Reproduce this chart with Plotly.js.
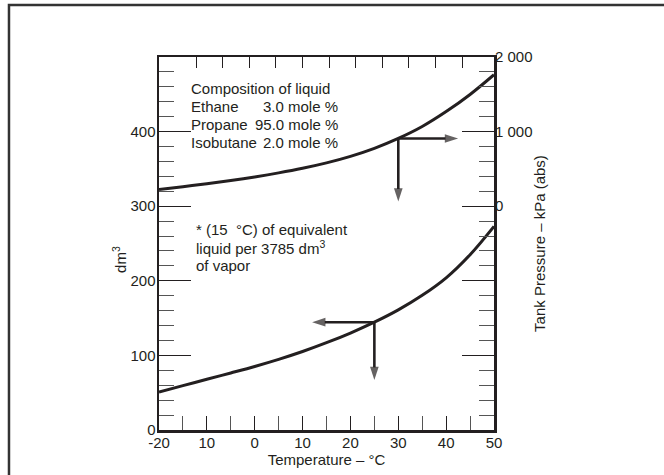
<!DOCTYPE html>
<html>
<head>
<meta charset="utf-8">
<script src="https://cdn.plot.ly/plotly-3.0.1.min.js"></script>
<style>html,body{margin:0;padding:0;background:#fff;}#chart{width:664px;height:475px;}</style>
</head>
<body>
<div id="chart"></div>
<script>
// ---- data ----
const temps = [-20, -15, -10, -5, 0, 5, 10, 15, 20, 25, 30, 35, 40, 45, 50];
const pressureKPa = [225, 262, 301.5, 344.5, 392.5, 446.5, 508, 580.5, 668, 775.5, 908, 1068, 1268, 1498, 1763];
const volumeDm3 = [51, 59.5, 68, 76.5, 85.2, 94.7, 105.2, 117, 130, 144.5, 161, 180.5, 204, 235, 273];

const xTickVals = [-20, -10, 0, 10, 20, 30, 40, 50];
const xTickText = ['-20', '10', '0', '10', '20', '30', '40', '50'];
const yTickVals = [0, 100, 200, 300, 400];
const yTickText = ['0', '100', '200', '300', '400'];
const y2TickVals = [0, 1000, 2000];
const y2TickText = ['0', '1 000', '2 000'];
const fahrenheitTicks = [10, 20, 30, 40, 50, 60, 70, 80, 90, 100, 110];

const compNames = ['Composition of liquid', 'Ethane', 'Propane', 'Isobutane'];
const compValues = ['', '3.0 mole %', '95.0 mole %', '2.0 mole %'];
const noteLines = ['* (15\u00a0\u00a0°C) of equivalent', 'liquid per 3785 dm<sup>3</sup>', 'of vapor'];

// reading arrows: tail on the curve, head where the reading is taken
const pressureArrowT = [[30, 42.5], [30, 30]];
const pressureArrowP = [[908, 908], [908, 62]];
const volumeArrowT = [[25, 12], [25, 25]];
const volumeArrowV = [[144.5, 144.5], [144.5, 67]];

// ---- styling ----
const ink = '#231f20';
const font = {family: 'Liberation Sans, Arial, sans-serif', size: 15, color: ink};

const traces = [
  {x: temps, y: pressureKPa, xaxis: 'x', yaxis: 'y2', mode: 'lines',
   line: {color: ink, width: 3, shape: 'spline', smoothing: 1}, hoverinfo: 'skip'},
  {x: temps, y: volumeDm3, xaxis: 'x', yaxis: 'y', mode: 'lines',
   line: {color: ink, width: 3, shape: 'spline', smoothing: 1}, hoverinfo: 'skip'},
  {x: [], y: [], xaxis: 'x2', yaxis: 'y', mode: 'lines', hoverinfo: 'skip'}
];
function arrowTrace(xs, ys, yaxis) {
  return {x: xs, y: ys, xaxis: 'x', yaxis: yaxis, mode: 'lines+markers', hoverinfo: 'skip',
    line: {color: ink, width: 2.6},
    marker: {symbol: 'arrow', angleref: 'previous', size: [0, 14], color: ink, line: {width: 0}}};
}
pressureArrowT.forEach((xs, i) => traces.push(arrowTrace(xs, pressureArrowP[i], 'y2')));
volumeArrowT.forEach((xs, i) => traces.push(arrowTrace(xs, volumeArrowV[i], 'y')));

const annotations = [];
const lineY = [458, 433.5, 409, 385.5];
compNames.forEach((t, i) => {
  annotations.push({xref: 'x', yref: 'y', x: -13.7, y: lineY[i], text: t, showarrow: false,
    xanchor: 'left', yanchor: 'middle', font: font});
  if (compValues[i]) {
    annotations.push({xref: 'x', yref: 'y', x: 17.8, y: lineY[i], text: compValues[i], showarrow: false,
      xanchor: 'right', yanchor: 'middle', font: font});
  }
});
const noteY = [268.5, 244.5, 221];
noteLines.forEach((t, i) => {
  annotations.push({xref: 'x', yref: 'y', x: -12.6, y: noteY[i], text: t, showarrow: false,
    xanchor: 'left', yanchor: 'middle', font: font});
});
annotations.push({xref: 'paper', yref: 'paper', x: -0.1164, y: 0.456, text: 'dm<sup>3</sup>',
  textangle: -90, showarrow: false, xanchor: 'center', yanchor: 'middle', font: font});

const layout = {
  width: 664, height: 475,
  margin: {l: 159, r: 170, t: 57, b: 45, pad: 0},
  paper_bgcolor: '#ffffff', plot_bgcolor: '#ffffff',
  showlegend: false,
  font: font,
  xaxis: {
    range: [-20, 50], tickmode: 'array', tickvals: xTickVals, ticktext: xTickText,
    ticks: 'inside', ticklen: 14, tickwidth: 1, tickcolor: ink, ticklabelstandoff: -3,
    minor: {dtick: 5, ticks: 'inside', ticklen: 14, tickwidth: 1, tickcolor: '#555', showgrid: false},
    showline: true, linewidth: 2.5, linecolor: ink, mirror: true,
    showgrid: false, zeroline: false, tickfont: font,
    title: {text: 'Temperature \u2013 °C', font: font, standoff: 4}
  },
  xaxis2: {
    overlaying: 'x', side: 'top', anchor: 'y', range: [-4, 122],
    tickmode: 'array', tickvals: fahrenheitTicks, ticks: 'inside', ticklen: 11, tickwidth: 1,
    tickcolor: ink, showticklabels: false, showline: false, showgrid: false, zeroline: false
  },
  yaxis: {
    range: [0, 500], tickmode: 'array', tickvals: yTickVals, ticktext: yTickText,
    ticks: 'inside', ticklen: 32, tickwidth: 1, tickcolor: ink, ticklabelstandoff: -2,
    minor: {dtick: 20, ticks: 'inside', ticklen: 15, tickwidth: 1, tickcolor: '#555', showgrid: false},
    showline: true, linewidth: 2.5, linecolor: ink, mirror: 'ticks',
    showgrid: false, zeroline: false, tickfont: font
  },
  yaxis2: {
    overlaying: 'y', side: 'right', anchor: 'x', range: [-3000, 2000],
    tickmode: 'array', tickvals: y2TickVals, ticktext: y2TickText, ticks: '',
    showline: false, showgrid: false, zeroline: false, tickfont: font,
    title: {text: 'Tank Pressure \u2013 kPa (abs)', font: font, standoff: 2}
  },
  shapes: [
    {type: 'rect', xref: 'paper', yref: 'paper', x0: -0.4478, x1: 1.6, y0: -0.3, y1: 1.1394,
     line: {color: '#333', width: 2.5}, fillcolor: 'rgba(0,0,0,0)', layer: 'below'}
  ],
  annotations: annotations
};

Plotly.newPlot('chart', traces, layout, {staticPlot: true, displayModeBar: false});
</script>
</body>
</html>
